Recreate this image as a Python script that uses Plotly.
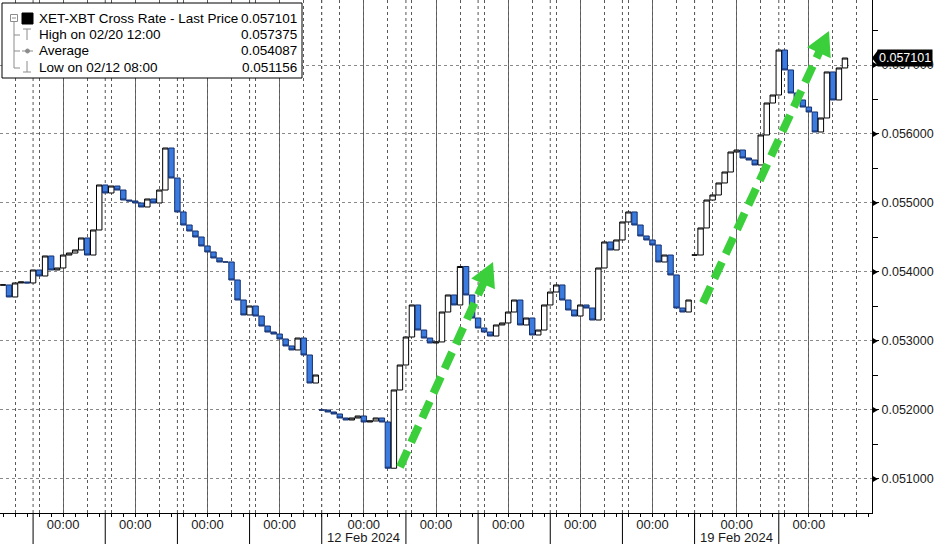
import pandas as pd
import plotly.graph_objects as go

# ---------------- data (2-hour closes) ----------------
seg1_start = "2024-02-05 04:00"
seg1_close = [
    0.053812, 0.053638, 0.053841, 0.053855, 0.053841, 0.054029, 0.053942, 0.054232, 0.054029, 0.054058,
    0.054246, 0.054275, 0.054319, 0.054493, 0.054246, 0.054609, 0.055261, 0.055145, 0.055246, 0.055188,
    0.055043, 0.055029, 0.055000, 0.054942, 0.055058, 0.055000, 0.055188, 0.055797, 0.055362, 0.054870,
    0.054681, 0.054594, 0.054507, 0.054377, 0.054290, 0.054203, 0.054145, 0.054145, 0.053884, 0.053594,
    0.053377, 0.053507, 0.053362, 0.053217, 0.053130, 0.053101, 0.053029, 0.052928, 0.052870, 0.053043,
    0.052797, 0.052391, 0.052507,
]
seg2_start = "2024-02-11 10:00"
seg2_close = [
    0.052000, 0.051971, 0.051942, 0.051884, 0.051855, 0.051884, 0.051913, 0.051826, 0.051841, 0.051884,
    0.051826, 0.051156, 0.052290, 0.052652, 0.053058, 0.053522, 0.053159, 0.053043, 0.052971, 0.052986,
    0.053420, 0.053667, 0.053522, 0.054080, 0.053667, 0.053333, 0.053188, 0.053130, 0.053072, 0.053232,
    0.053261, 0.053420, 0.053594, 0.053232, 0.053333, 0.053087, 0.053159, 0.053522, 0.053710, 0.053812,
    0.053594, 0.053449, 0.053362, 0.053522, 0.053478, 0.053304, 0.054058, 0.054435, 0.054319, 0.054464,
    0.054725, 0.054870, 0.054681, 0.054522, 0.054464, 0.054391, 0.054145, 0.054246, 0.053957, 0.053478,
    0.053420, 0.053594,
]
seg3_start = "2024-02-18 10:00"
seg3_close = [
    0.054246, 0.054638, 0.055043, 0.055116, 0.055290, 0.055449, 0.055739, 0.055768, 0.055652, 0.055623,
    0.055551, 0.055986, 0.056449, 0.056565, 0.057217, 0.056928, 0.056594, 0.056493, 0.056391, 0.056319,
    0.056029, 0.056232, 0.056899, 0.056493, 0.056957, 0.057101,
]

weekend_breaks = [["2024-02-09 14:00", "2024-02-11 10:00"],
                  ["2024-02-16 14:00", "2024-02-18 10:00"]]
session_bounds = ["2024-02-05 14:00", "2024-02-06 14:00", "2024-02-07 14:00", "2024-02-08 14:00",
                  "2024-02-09 14:00", "2024-02-12 14:00", "2024-02-13 14:00", "2024-02-14 14:00",
                  "2024-02-15 14:00", "2024-02-16 14:00", "2024-02-19 14:00"]
x_range = ["2024-02-05 03:00", "2024-02-20 21:00"]
day_ticks = ["2024-02-06", "2024-02-07", "2024-02-08", "2024-02-09", "2024-02-12", "2024-02-13",
             "2024-02-14", "2024-02-15", "2024-02-16", "2024-02-19", "2024-02-20"]
day_tick_labels = ["00:00"] * len(day_ticks)
date_label_days = ["2024-02-12", "2024-02-19"]
date_labels = ["12 Feb 2024", "19 Feb 2024"]

y_range = [0.050507, 0.057942]
y_ticks = [0.051, 0.052, 0.053, 0.054, 0.055, 0.056, 0.057]
y_tick_labels = ["0.051000", "0.052000", "0.053000", "0.054000", "0.055000", "0.056000", "0.057000"]
y_minor = [0.0505, 0.0515, 0.0525, 0.0535, 0.0545, 0.0555, 0.0565, 0.0575]

legend_labels = ["XET-XBT Cross Rate - Last Price", "High on 02/20 12:00", "Average", "Low on 02/12 08:00"]
legend_values = ["0.057101", "0.057375", "0.054087", "0.051156"]
last_price = 0.057101

# ---------------- build candles ----------------
xs, o, c = [], [], []
for start, closes in [(seg1_start, seg1_close), (seg2_start, seg2_close), (seg3_start, seg3_close)]:
    t = pd.date_range(start, periods=len(closes), freq="2h")
    xs += list(t.strftime("%Y-%m-%d %H:%M"))
    o += [closes[0]] + closes[:-1]
    c += closes
h = [max(a, b) for a, b in zip(o, c)]
lo = [min(a, b) for a, b in zip(o, c)]

fig = go.Figure()
fig.add_trace(go.Candlestick(
    x=xs, open=o, high=h, low=lo, close=c,
    increasing=dict(line=dict(color="#000000", width=1), fillcolor="#ffffff"),
    decreasing=dict(line=dict(color="#15306e", width=1), fillcolor="#3b7be0"),
    whiskerwidth=0, hoverinfo="skip", showlegend=False,
))
# helper (invisible) trace for the 8-hour grid / 4-hour tick axis
fig.add_trace(go.Scatter(x=[xs[0]], y=[c[0]], xaxis="x2", mode="markers",
                         marker=dict(opacity=0), hoverinfo="skip", showlegend=False))

PW, PH = 872, 513
def px(v):
    return v / PW
def py(v):
    return 1 - v / PH

FONT = "Liberation Sans, Arial, sans-serif"
brk = [dict(bounds=b) for b in weekend_breaks]

fig.update_layout(
    width=936, height=544,
    margin=dict(l=0, r=64, t=0, b=31, autoexpand=False),
    paper_bgcolor="white", plot_bgcolor="white", showlegend=False,
    font=dict(family=FONT, size=13, color="#1a1a1a"),
    boxgap=0.05, boxgroupgap=0.05,
    xaxis=dict(
        type="date", range=x_range, rangebreaks=brk, rangeslider=dict(visible=False),
        tickmode="array", tickvals=day_ticks, ticktext=day_tick_labels,
        ticks="outside", ticklen=3, tickcolor="black", ticklabelstandoff=-4,
        showgrid=True, gridcolor="#6a6a6a", gridwidth=1,
        showline=True, linecolor="black", linewidth=1, zeroline=False,
        automargin=False, fixedrange=True, tickfont=dict(size=13),
    ),
    xaxis2=dict(
        type="date", overlaying="x", anchor="y", side="bottom", range=x_range, rangebreaks=brk,
        tickmode="linear", tick0="2024-02-05 00:00", dtick=8 * 3600000,
        ticks="outside", ticklen=3, tickcolor="black", showticklabels=False,
        showgrid=True, gridcolor="#5a5a5a", griddash="dot", gridwidth=1,
        minor=dict(tickmode="linear", tick0="2024-02-05 04:00", dtick=8 * 3600000,
                   ticks="outside", ticklen=3, tickcolor="black", showgrid=False),
        showline=False, zeroline=False, fixedrange=True,
    ),
    yaxis=dict(
        side="right", range=y_range, tickmode="array", tickvals=y_ticks, ticktext=y_tick_labels,
        ticks="outside", ticklen=6, tickcolor="black",
        showgrid=True, gridcolor="#8a8a8a", griddash="dot", gridwidth=1,
        showline=True, linecolor="black", linewidth=1, zeroline=False,
        minor=dict(tickmode="array", tickvals=y_minor, ticks="outside", ticklen=5,
                   tickcolor="black", showgrid=False),
        automargin=False, fixedrange=True, tickfont=dict(size=12.5),
    ),
)

shapes = []
# session separators
for b in session_bounds:
    shapes.append(dict(type="line", xref="x", yref="paper", x0=b, x1=b, y0=0, y1=1,
                       line=dict(color="#555555", width=1, dash="dot"), layer="below"))
    shapes.append(dict(type="line", xref="x", yref="paper", x0=b, x1=b, y0=0, y1=-31 / PH,
                       line=dict(color="black", width=1)))
# y tick triangles
ydelta = (y_range[1] - y_range[0]) / PH
for v in y_ticks:
    shapes.append(dict(type="path", xref="paper", yref="y",
                       path=f"M {1.0},{v - 3.5 * ydelta} L {1.0},{v + 3.5 * ydelta} L {px(878)},{v} Z",
                       fillcolor="black", line=dict(width=0), layer="above"))
# last price pointer
shapes.append(dict(type="path", xref="paper", yref="y",
                   path=f"M {px(872)},{last_price} L {px(878)},{last_price + 8 * ydelta} "
                        f"L {px(878)},{last_price - 8 * ydelta} Z",
                   fillcolor="black", line=dict(width=0), layer="above"))

# legend box
shapes.append(dict(type="rect", xref="paper", yref="paper", x0=px(2), x1=px(302), y0=py(78), y1=py(3),
                   fillcolor="white", line=dict(color="black", width=1), layer="above"))
grey = "#8c8c8c"
# tree connector
shapes.append(dict(type="line", xref="paper", yref="paper", x0=px(14), x1=px(14), y0=py(22), y1=py(68),
                   line=dict(color=grey, width=1), layer="above"))
for yy in [35, 51, 68]:
    shapes.append(dict(type="line", xref="paper", yref="paper", x0=px(14), x1=px(20), y0=py(yy), y1=py(yy),
                       line=dict(color=grey, width=1), layer="above"))
# expand box
shapes.append(dict(type="rect", xref="paper", yref="paper", x0=px(10.5), x1=px(17.5), y0=py(21.5), y1=py(14.5),
                   fillcolor="white", line=dict(color=grey, width=1), layer="above"))
shapes.append(dict(type="line", xref="paper", yref="paper", x0=px(12), x1=px(16), y0=py(18), y1=py(18),
                   line=dict(color=grey, width=1), layer="above"))
# black square
shapes.append(dict(type="rect", xref="paper", yref="paper", x0=px(22), x1=px(33), y0=py(24), y1=py(13),
                   fillcolor="black", line=dict(color="black", width=1), layer="above"))
# high icon (T)
shapes.append(dict(type="line", xref="paper", yref="paper", x0=px(23), x1=px(31), y0=py(29), y1=py(29),
                   line=dict(color=grey, width=1), layer="above"))
shapes.append(dict(type="line", xref="paper", yref="paper", x0=px(27), x1=px(27), y0=py(29), y1=py(40),
                   line=dict(color=grey, width=1), layer="above"))
# average icon
shapes.append(dict(type="line", xref="paper", yref="paper", x0=px(22), x1=px(33), y0=py(51), y1=py(51),
                   line=dict(color=grey, width=1), layer="above"))
shapes.append(dict(type="circle", xref="paper", yref="paper", x0=px(25.5), x1=px(29.5), y0=py(53), y1=py(49),
                   fillcolor=grey, line=dict(color=grey, width=1), layer="above"))
# low icon
shapes.append(dict(type="line", xref="paper", yref="paper", x0=px(27), x1=px(27), y0=py(61), y1=py(72),
                   line=dict(color=grey, width=1), layer="above"))
shapes.append(dict(type="line", xref="paper", yref="paper", x0=px(23), x1=px(31), y0=py(72), y1=py(72),
                   line=dict(color=grey, width=1), layer="above"))

# green dashed arrows
GREEN = "#3ccf3c"
def arrow(tail, tip):
    (x0, y0), (x1, y1) = tail, tip
    dx, dy = x1 - x0, y1 - y0
    L = (dx * dx + dy * dy) ** 0.5
    ux, uy = dx / L, dy / L
    hl, hw = 24, 13
    bx, by = x1 - ux * hl, y1 - uy * hl
    nx, ny = -uy, ux
    out = [dict(type="line", xref="paper", yref="paper",
                x0=px(x0), y0=py(y0), x1=px(bx + ux * 2), y1=py(by + uy * 2),
                line=dict(color=GREEN, width=8, dash="18px,9px"), layer="above"),
           dict(type="path", xref="paper", yref="paper",
                path=f"M {px(x1)},{py(y1)} L {px(bx + nx * hw)},{py(by + ny * hw)} "
                     f"L {px(bx - nx * hw)},{py(by - ny * hw)} Z",
                fillcolor=GREEN, line=dict(width=0), layer="above")]
    return out

shapes += arrow((400, 467), (493, 262))
shapes += arrow((703, 303), (829, 31))

fig.update_layout(shapes=shapes)

ann = []
row_y = [19, 35, 51, 67.5]
for lab, val, yy in zip(legend_labels, legend_values, row_y):
    ann.append(dict(xref="paper", yref="paper", x=px(37), y=py(yy), text=lab, showarrow=False,
                    xanchor="left", yanchor="middle", font=dict(size=13.5, color="black", family=FONT)))
    ann.append(dict(xref="paper", yref="paper", x=px(299), y=py(yy), text=val, showarrow=False,
                    xanchor="right", yanchor="middle", font=dict(size=13.5, color="black", family=FONT)))
for d, lab in zip(date_label_days, date_labels):
    ann.append(dict(xref="x", yref="paper", x=d, y=py(537), text=lab, showarrow=False,
                    xanchor="center", yanchor="middle", font=dict(size=13, color="#1a1a1a", family=FONT)))
ann.append(dict(xref="paper", yref="y", x=px(877), y=last_price, text=f"{last_price:.6f}",
                showarrow=False, xanchor="left", yanchor="middle", bgcolor="black", borderpad=1,
                font=dict(size=12.5, color="white", family=FONT)))
fig.update_layout(annotations=ann)

fig.write_html("out.html", config={"displayModeBar": False},
               post_script="document.body.style.margin='0';document.body.style.overflow='hidden';")
